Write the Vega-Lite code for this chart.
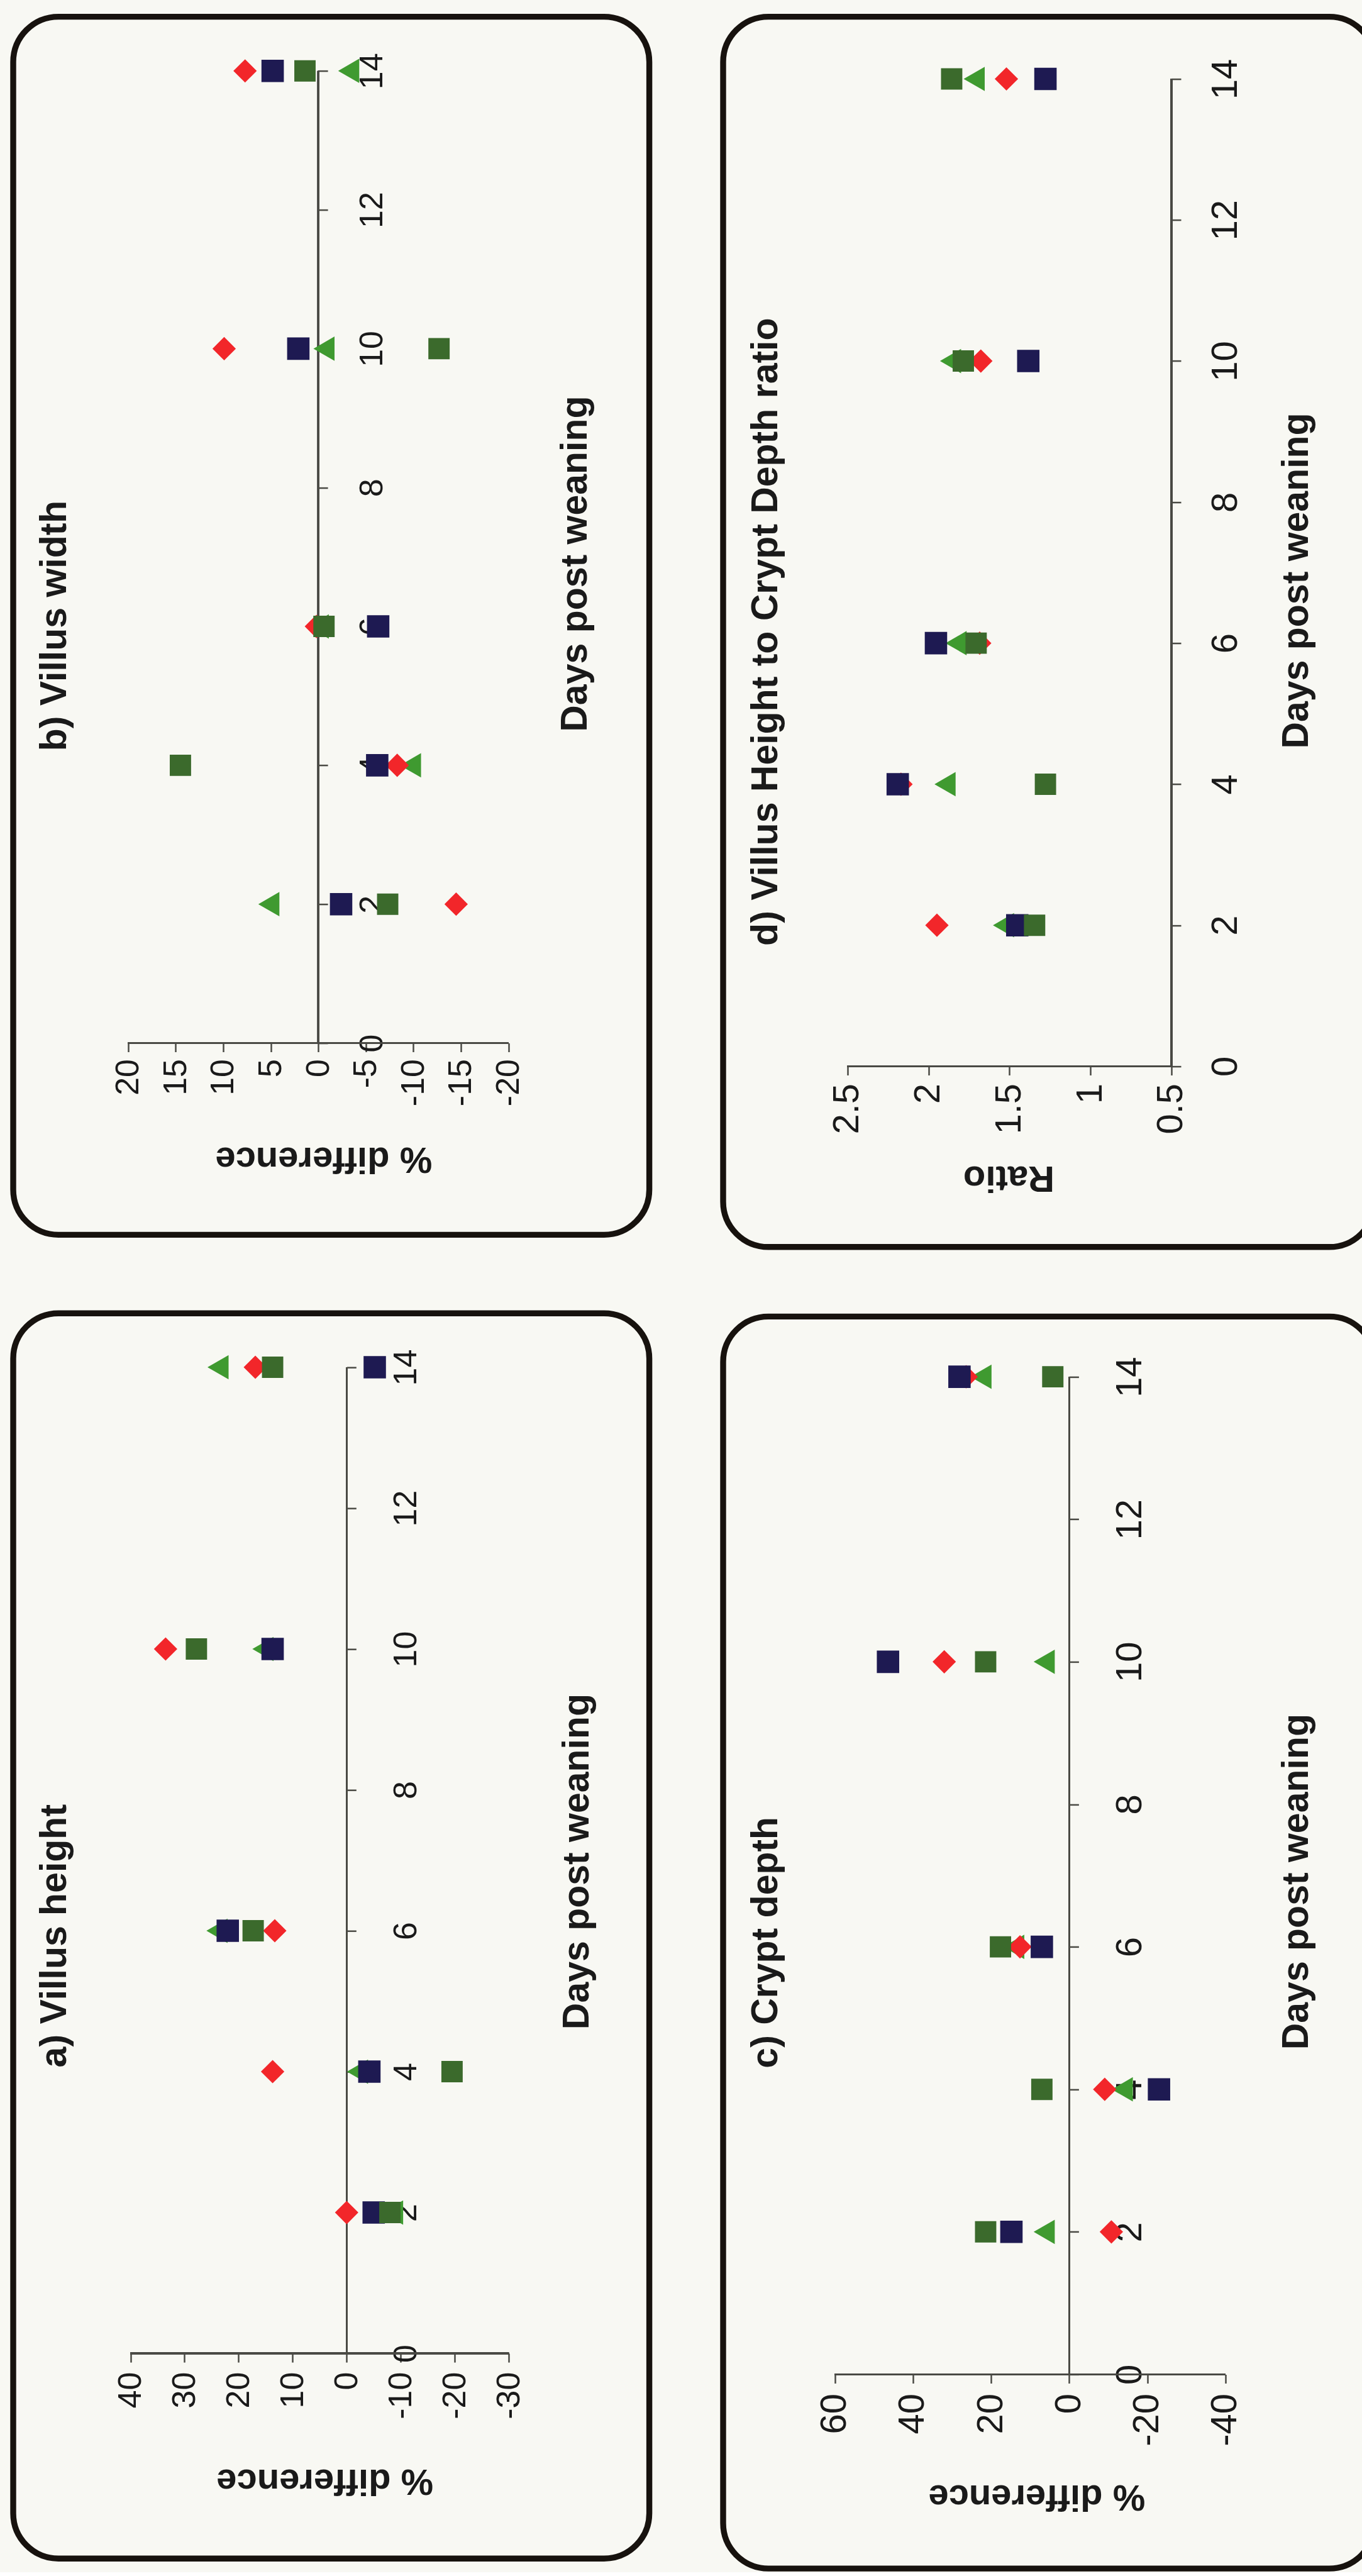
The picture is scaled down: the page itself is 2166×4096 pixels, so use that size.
{
  "$schema": "https://vega.github.io/schema/vega-lite/v6.json",
  "background": "#f8f8f3",
  "padding": {"left": 16, "top": 21.6, "right": 0, "bottom": 0},
  "config": {
    "font": "Liberation Sans",
    "view": {"stroke": "#17120e", "strokeWidth": 9.4, "cornerRadius": 72, "fill": null},
    "axis": {
      "grid": false,
      "domain": false,
      "tickColor": "#4a4a44",
      "tickWidth": 2.5,
      "labelColor": "#1a1a1a",
      "titleColor": "#1a1a1a",
      "labelFont": "Liberation Sans",
      "titleFont": "Liberation Sans",
      "titleFontWeight": "bold",
      "labelOverlap": false,
      "labelFlush": false,
      "labelExpr": "'' + datum.value",
      "zindex": 1
    },
    "title": {"font": "Liberation Sans", "fontSize": 59, "fontWeight": "bold", "color": "#1a1a1a"},
    "point": {"filled": true, "opacity": 1, "strokeWidth": 0}
  },
  "datasets": {
    "villusWidth": [
      {"day": 2, "series": "Series 1", "value": 5.2},
      {"day": 4, "series": "Series 1", "value": -9.7},
      {"day": 6, "series": "Series 1", "value": 0.0},
      {"day": 10, "series": "Series 1", "value": -0.6},
      {"day": 14, "series": "Series 1", "value": -3.2},
      {"day": 2, "series": "Series 2", "value": -14.5},
      {"day": 4, "series": "Series 2", "value": -8.3},
      {"day": 6, "series": "Series 2", "value": 0.2},
      {"day": 10, "series": "Series 2", "value": 9.9},
      {"day": 14, "series": "Series 2", "value": 7.7},
      {"day": 2, "series": "Series 3", "value": -2.4},
      {"day": 4, "series": "Series 3", "value": -6.2},
      {"day": 6, "series": "Series 3", "value": -6.3},
      {"day": 10, "series": "Series 3", "value": 2.1},
      {"day": 14, "series": "Series 3", "value": 4.8},
      {"day": 2, "series": "Series 4", "value": -7.3},
      {"day": 4, "series": "Series 4", "value": 14.5},
      {"day": 6, "series": "Series 4", "value": -0.6},
      {"day": 10, "series": "Series 4", "value": -12.7},
      {"day": 14, "series": "Series 4", "value": 1.4}
    ],
    "villusHeight": [
      {"day": 2, "series": "Series 1", "value": -8.5},
      {"day": 4, "series": "Series 1", "value": -2.0},
      {"day": 6, "series": "Series 1", "value": 24.0},
      {"day": 10, "series": "Series 1", "value": 15.5},
      {"day": 14, "series": "Series 1", "value": 23.8},
      {"day": 2, "series": "Series 2", "value": 0.0},
      {"day": 4, "series": "Series 2", "value": 13.7},
      {"day": 6, "series": "Series 2", "value": 13.3},
      {"day": 10, "series": "Series 2", "value": 33.5},
      {"day": 14, "series": "Series 2", "value": 16.9},
      {"day": 2, "series": "Series 3", "value": -5.0},
      {"day": 4, "series": "Series 3", "value": -4.2},
      {"day": 6, "series": "Series 3", "value": 22.0},
      {"day": 10, "series": "Series 3", "value": 13.7},
      {"day": 14, "series": "Series 3", "value": -5.2},
      {"day": 2, "series": "Series 4", "value": -8.0},
      {"day": 4, "series": "Series 4", "value": -19.5},
      {"day": 6, "series": "Series 4", "value": 17.3},
      {"day": 10, "series": "Series 4", "value": 27.8},
      {"day": 14, "series": "Series 4", "value": 13.7}
    ],
    "cryptDepth": [
      {"day": 2, "series": "Series 1", "value": 6.4},
      {"day": 4, "series": "Series 1", "value": -13.6},
      {"day": 6, "series": "Series 1", "value": 14.2},
      {"day": 10, "series": "Series 1", "value": 6.4},
      {"day": 14, "series": "Series 1", "value": 22.6},
      {"day": 2, "series": "Series 2", "value": -10.8},
      {"day": 4, "series": "Series 2", "value": -9.1},
      {"day": 6, "series": "Series 2", "value": 12.6},
      {"day": 10, "series": "Series 2", "value": 32.0},
      {"day": 14, "series": "Series 2", "value": 26.4},
      {"day": 2, "series": "Series 3", "value": 14.8},
      {"day": 4, "series": "Series 3", "value": -23.0},
      {"day": 6, "series": "Series 3", "value": 7.0},
      {"day": 10, "series": "Series 3", "value": 46.4},
      {"day": 14, "series": "Series 3", "value": 28.1},
      {"day": 2, "series": "Series 4", "value": 21.4},
      {"day": 4, "series": "Series 4", "value": 7.0},
      {"day": 6, "series": "Series 4", "value": 17.6},
      {"day": 10, "series": "Series 4", "value": 21.4},
      {"day": 14, "series": "Series 4", "value": 4.2}
    ],
    "heightDepthRatio": [
      {"day": 2, "series": "Series 1", "value": 1.537},
      {"day": 4, "series": "Series 1", "value": 1.898},
      {"day": 6, "series": "Series 1", "value": 1.83},
      {"day": 10, "series": "Series 1", "value": 1.864},
      {"day": 14, "series": "Series 1", "value": 1.718},
      {"day": 2, "series": "Series 2", "value": 1.948},
      {"day": 4, "series": "Series 2", "value": 2.17},
      {"day": 6, "series": "Series 2", "value": 1.684},
      {"day": 10, "series": "Series 2", "value": 1.677},
      {"day": 14, "series": "Series 2", "value": 1.519},
      {"day": 2, "series": "Series 3", "value": 1.452},
      {"day": 4, "series": "Series 3", "value": 2.19},
      {"day": 6, "series": "Series 3", "value": 1.954},
      {"day": 10, "series": "Series 3", "value": 1.384},
      {"day": 14, "series": "Series 3", "value": 1.278},
      {"day": 2, "series": "Series 4", "value": 1.345},
      {"day": 4, "series": "Series 4", "value": 1.278},
      {"day": 6, "series": "Series 4", "value": 1.706},
      {"day": 10, "series": "Series 4", "value": 1.785},
      {"day": 14, "series": "Series 4", "value": 1.857}
    ]
  },
  "spacing": 107,
  "hconcat": [
    {
      "spacing": 114.6,
      "vconcat": [
        {
          "width": 1011.6,
          "height": 1936.8,
          "data": {"name": "villusWidth"},
          "title": {"text": "b) Villus width", "orient": "left", "anchor": "middle", "angle": -90, "baseline": "alphabetic", "offset": -143},
          "layer": [
            {
              "mark": {"type": "rule", "color": "#4a4a44", "strokeWidth": 2.5},
              "encoding": {"x": {"datum": 0}, "y": {"datum": 0}, "y2": {"datum": 14}}
            },
            {
              "mark": {"type": "rule", "color": "#4a4a44", "strokeWidth": 2.5},
              "encoding": {"y": {"datum": 0}, "x": {"datum": -20}, "x2": {"datum": 20}}
            },
            {
              "mark": {"type": "point"},
              "encoding": {
                "x": {
                  "field": "value", "type": "quantitative",
                  "scale": {"domain": [-34.82, 32.09], "reverse": true, "nice": false, "zero": false},
                  "axis": {"orient": "bottom", "offset": -304.9, "values": [-20, -15, -10, -5, 0, 5, 10, 15, 20], "tickSize": 14, "labelAngle": -90, "labelAlign": "right", "labelBaseline": "middle", "labelPadding": 11, "labelFontSize": 52, "title": "% difference", "titleFontSize": 58, "titleAngle": 180, "titleAlign": "center", "titleBaseline": "alphabetic", "titleX": 493.3, "titleY": 166.5}
                },
                "y": {
                  "field": "day", "type": "quantitative",
                  "scale": {"domain": [-2.761, 14.78], "nice": false, "zero": false},
                  "axis": {"orient": "right", "offset": -526.5, "values": [0, 2, 4, 6, 8, 10, 12, 14], "tickSize": 15, "labelAngle": -90, "labelAlign": "center", "labelBaseline": "top", "labelPadding": 45, "labelFontSize": 52, "title": "Days post weaning", "titleFontSize": 59, "titleAngle": -90, "titleAlign": "center", "titleBaseline": "alphabetic", "titleX": 426.3, "titleY": 869.5}
                },
                "shape": {"field": "series", "type": "nominal", "scale": {"domain": ["Series 1", "Series 2", "Series 3", "Series 4"], "range": ["triangle-left", "diamond", "square", "square"]}, "legend": null},
                "color": {"field": "series", "type": "nominal", "scale": {"domain": ["Series 1", "Series 2", "Series 3", "Series 4"], "range": ["#3f9a30", "#f2262a", "#1e1a52", "#3b6a2c"]}, "legend": null},
                "size": {"field": "series", "type": "nominal", "scale": {"domain": ["Series 1", "Series 2", "Series 3", "Series 4"], "range": [1500, 1150, 920, 920]}, "legend": null}
              }
            }
          ]
        },
        {
          "width": 1011.6,
          "height": 1980.0,
          "data": {"name": "villusHeight"},
          "title": {"text": "a) Villus height", "orient": "left", "anchor": "middle", "angle": -90, "baseline": "alphabetic", "offset": -143},
          "layer": [
            {
              "mark": {"type": "rule", "color": "#4a4a44", "strokeWidth": 2.5},
              "encoding": {"x": {"datum": 0}, "y": {"datum": 0}, "y2": {"datum": 14}}
            },
            {
              "mark": {"type": "rule", "color": "#4a4a44", "strokeWidth": 2.5},
              "encoding": {"y": {"datum": 0}, "x": {"datum": -30}, "x2": {"datum": 40}}
            },
            {
              "mark": {"type": "point"},
              "encoding": {
                "x": {
                  "field": "value", "type": "quantitative",
                  "scale": {"domain": [-56.0, 61.7], "reverse": true, "nice": false, "zero": false},
                  "axis": {"orient": "bottom", "offset": -326.1, "values": [-30, -20, -10, 0, 10, 20, 30, 40], "tickSize": 14, "labelAngle": -90, "labelAlign": "right", "labelBaseline": "middle", "labelPadding": 15, "labelFontSize": 52, "title": "% difference", "titleFontSize": 58, "titleAngle": 180, "titleAlign": "center", "titleBaseline": "alphabetic", "titleX": 495.2, "titleY": 184}
                },
                "y": {
                  "field": "day", "type": "quantitative",
                  "scale": {"domain": [-2.912, 14.766], "nice": false, "zero": false},
                  "axis": {"orient": "right", "offset": -481.3, "values": [0, 2, 4, 6, 8, 10, 12, 14], "tickSize": 15, "labelAngle": -90, "labelAlign": "center", "labelBaseline": "top", "labelPadding": 54, "labelFontSize": 52, "title": "Days post weaning", "titleFontSize": 59, "titleAngle": -90, "titleAlign": "center", "titleBaseline": "alphabetic", "titleX": 384.4, "titleY": 871.4}
                },
                "shape": {"field": "series", "type": "nominal", "scale": {"domain": ["Series 1", "Series 2", "Series 3", "Series 4"], "range": ["triangle-left", "diamond", "square", "square"]}, "legend": null},
                "color": {"field": "series", "type": "nominal", "scale": {"domain": ["Series 1", "Series 2", "Series 3", "Series 4"], "range": ["#3f9a30", "#f2262a", "#1e1a52", "#3b6a2c"]}, "legend": null},
                "size": {"field": "series", "type": "nominal", "scale": {"domain": ["Series 1", "Series 2", "Series 3", "Series 4"], "range": [1500, 1150, 920, 920]}, "legend": null}
              }
            }
          ]
        }
      ]
    },
    {
      "spacing": 100.8,
      "vconcat": [
        {
          "width": 1036.0,
          "height": 1956.2,
          "data": {"name": "heightDepthRatio"},
          "title": {"text": "d) Villus Height to Crypt Depth ratio", "orient": "left", "anchor": "middle", "angle": -90, "baseline": "alphabetic", "offset": -145},
          "layer": [
            {
              "mark": {"type": "rule", "color": "#4a4a44", "strokeWidth": 2.5},
              "encoding": {"x": {"datum": 0.5}, "y": {"datum": 0}, "y2": {"datum": 14}}
            },
            {
              "mark": {"type": "rule", "color": "#4a4a44", "strokeWidth": 2.5},
              "encoding": {"y": {"datum": 0}, "x": {"datum": 0.5}, "x2": {"datum": 2.5}}
            },
            {
              "mark": {"type": "point"},
              "encoding": {
                "x": {
                  "field": "value", "type": "quantitative",
                  "scale": {"domain": [-0.754, 3.268], "reverse": true, "nice": false, "zero": false},
                  "axis": {"orient": "bottom", "offset": -287.3, "values": [0.5, 1, 1.5, 2, 2.5], "tickSize": 14, "labelAngle": -90, "labelAlign": "right", "labelBaseline": "middle", "labelPadding": 13, "labelFontSize": 58, "title": "Ratio", "titleFontSize": 58, "titleAngle": 180, "titleAlign": "center", "titleBaseline": "alphabetic", "titleX": 453.9, "titleY": 159}
                },
                "y": {
                  "field": "day", "type": "quantitative",
                  "scale": {"domain": [-2.562, 14.882], "nice": false, "zero": false},
                  "axis": {"orient": "right", "offset": -323.0, "values": [0, 2, 4, 6, 8, 10, 12, 14], "tickSize": 15, "labelAngle": -90, "labelAlign": "center", "labelBaseline": "top", "labelPadding": 43, "labelFontSize": 58, "title": "Days post weaning", "titleFontSize": 59, "titleAngle": -90, "titleAlign": "center", "titleBaseline": "alphabetic", "titleX": 216.6, "titleY": 896.4}
                },
                "shape": {"field": "series", "type": "nominal", "scale": {"domain": ["Series 1", "Series 2", "Series 3", "Series 4"], "range": ["triangle-left", "diamond", "square", "square"]}, "legend": null},
                "color": {"field": "series", "type": "nominal", "scale": {"domain": ["Series 1", "Series 2", "Series 3", "Series 4"], "range": ["#3f9a30", "#f2262a", "#1e1a52", "#3b6a2c"]}, "legend": null},
                "size": {"field": "series", "type": "nominal", "scale": {"domain": ["Series 1", "Series 2", "Series 3", "Series 4"], "range": [1500, 1150, 920, 920]}, "legend": null}
              }
            }
          ]
        },
        {
          "width": 1036.0,
          "height": 1990.7,
          "data": {"name": "cryptDepth"},
          "title": {"text": "c) Crypt depth", "orient": "left", "anchor": "middle", "angle": -90, "baseline": "alphabetic", "offset": -145},
          "layer": [
            {
              "mark": {"type": "rule", "color": "#4a4a44", "strokeWidth": 2.5},
              "encoding": {"x": {"datum": 0}, "y": {"datum": 0}, "y2": {"datum": 14}}
            },
            {
              "mark": {"type": "rule", "color": "#4a4a44", "strokeWidth": 2.5},
              "encoding": {"y": {"datum": 0}, "x": {"datum": -40}, "x2": {"datum": 60}}
            },
            {
              "mark": {"type": "point"},
              "encoding": {
                "x": {
                  "field": "value", "type": "quantitative",
                  "scale": {"domain": [-78.21, 88.63], "reverse": true, "nice": false, "zero": false},
                  "axis": {"orient": "bottom", "offset": -308.6, "values": [-40, -20, 0, 20, 40, 60], "tickSize": 14, "labelAngle": -90, "labelAlign": "right", "labelBaseline": "middle", "labelPadding": 16, "labelFontSize": 58, "title": "% difference", "titleFontSize": 58, "titleAngle": 180, "titleAlign": "center", "titleBaseline": "alphabetic", "titleX": 498.3, "titleY": 176.5}
                },
                "y": {
                  "field": "day", "type": "quantitative",
                  "scale": {"domain": [-2.724, 14.845], "nice": false, "zero": false},
                  "axis": {"orient": "right", "offset": -485.6, "values": [0, 2, 4, 6, 8, 10, 12, 14], "tickSize": 15, "labelAngle": -90, "labelAlign": "center", "labelBaseline": "top", "labelPadding": 53, "labelFontSize": 58, "title": "Days post weaning", "titleFontSize": 59, "titleAngle": -90, "titleAlign": "center", "titleBaseline": "alphabetic", "titleX": 379.3, "titleY": 898.3}
                },
                "shape": {"field": "series", "type": "nominal", "scale": {"domain": ["Series 1", "Series 2", "Series 3", "Series 4"], "range": ["triangle-left", "diamond", "square", "square"]}, "legend": null},
                "color": {"field": "series", "type": "nominal", "scale": {"domain": ["Series 1", "Series 2", "Series 3", "Series 4"], "range": ["#3f9a30", "#f2262a", "#1e1a52", "#3b6a2c"]}, "legend": null},
                "size": {"field": "series", "type": "nominal", "scale": {"domain": ["Series 1", "Series 2", "Series 3", "Series 4"], "range": [1500, 1150, 920, 920]}, "legend": null}
              }
            }
          ]
        }
      ]
    }
  ]
}
